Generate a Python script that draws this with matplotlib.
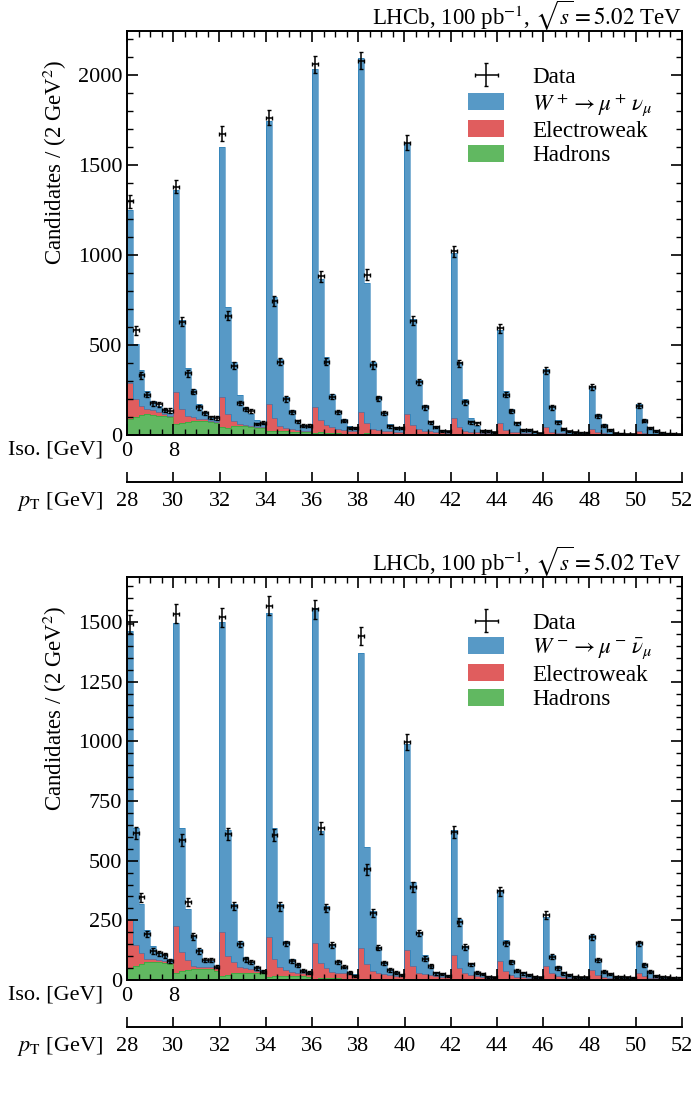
import numpy as np
import matplotlib
matplotlib.use("Agg")
import matplotlib.pyplot as plt
from matplotlib.ticker import MultipleLocator, FuncFormatter
from matplotlib.patches import Patch

plt.rcParams['font.family'] = ['Liberation Serif', 'DejaVu Serif']
plt.rcParams['mathtext.fontset'] = 'stix'
plt.rcParams['font.size'] = 16

# ---------------- data ----------------
pt_ticks = [28, 30, 32, 34, 36, 38, 40, 42, 44, 46, 48, 50, 52]
n_iso = 8  # isolation sub-bins (0-8 GeV) per pT bin

# W+ panel (12 pT bins x 8 isolation bins)
data_wp = [1300, 582, 332, 225, 176, 170, 139, 136,
           1380, 628, 343, 241, 154, 120, 98, 94,
           1675, 663, 385, 178, 144, 135, 61, 67,
           1764, 745, 407, 200, 126, 76, 52, 52,
           2059, 881, 407, 213, 126, 80, 37, 37,
           2081, 890, 389, 204, 122, 48, 37, 37,
           1625, 635, 296, 154, 70, 43, 24, 20,
           1021, 398, 181, 70, 65, 24, 24, 15,
           593, 224, 131, 65, 28, 28, 19, 9,
           357, 154, 70, 33, 20, 15, 11, 11,
           269, 107, 52, 28, 9, 8, 5, 5,
           163, 80, 39, 24, 11, 8, 6, 4]
sig_wp = [964, 306, 199, 101, 50, 30, 27, 14,
          1126, 493, 263, 157, 83, 37, 12, 15,
          1392, 596, 331, 161, 97, 65, 39, 23,
          1573, 672, 370, 174, 106, 53, 33, 28,
          1881, 785, 374, 185, 102, 59, 28, 24,
          1966, 779, 374, 189, 98, 41, 28, 24,
          1508, 587, 273, 145, 60, 36, 14, 10,
          917, 364, 176, 75, 37, 16, 14, 10,
          518, 218, 126, 56, 22, 19, 11, 5,
          321, 144, 71, 30, 15, 10, 7, 6,
          241, 103, 52, 27, 7, 5, 4, 3,
          152, 79, 39, 23, 8, 6, 4, 3]
ew_wp = [199, 98, 50, 28, 28, 23, 14, 10,
         176, 79, 37, 22, 13, 13, 6, 5,
         166, 78, 24, 13, 9, 6, 6, 6,
         152, 70, 32, 19, 15, 14, 10, 10,
         142, 69, 45, 33, 24, 22, 16, 15,
         122, 56, 25, 23, 18, 15, 13, 11,
         112, 52, 28, 20, 16, 13, 11, 9,
         90, 40, 21, 15, 13, 10, 8, 6,
         63, 26, 16, 12, 9, 8, 7, 5,
         44, 18, 11, 8, 6, 5, 4, 3,
         32, 13, 8, 5, 4, 3, 2, 2,
         19, 9, 6, 4, 3, 2, 2, 1]
had_wp = [89, 102, 113, 117, 113, 107, 104, 98,
          61, 65, 70, 76, 76, 76, 74, 65,
          43, 39, 52, 48, 48, 46, 40, 38,
          20, 24, 20, 20, 18, 16, 14, 14,
          12, 14, 12, 10, 9, 8, 8, 7,
          8, 9, 8, 7, 6, 5, 5, 5,
          5, 5, 5, 4, 4, 3, 3, 3,
          3, 3, 3, 3, 2, 2, 2, 2,
          2, 2, 2, 2, 2, 1, 1, 1,
          2, 1, 1, 1, 1, 1, 1, 1,
          1, 1, 1, 1, 1, 1, 1, 1,
          1, 1, 1, 1, 1, 1, 1, 1]

# W- panel
data_wm = [1490, 615, 347, 192, 122, 111, 103, 78,
           1535, 586, 326, 183, 122, 83, 83, 56,
           1519, 612, 310, 150, 86, 76, 51, 35,
           1568, 607, 308, 153, 81, 64, 38, 31,
           1553, 635, 303, 146, 76, 56, 31, 17,
           1441, 463, 281, 136, 72, 42, 31, 21,
           997, 389, 197, 90, 58, 28, 24, 17,
           620, 243, 139, 65, 31, 24, 14, 11,
           372, 153, 76, 38, 28, 21, 14, 11,
           271, 97, 51, 28, 21, 14, 11, 11,
           181, 83, 35, 24, 14, 12, 11, 10,
           153, 63, 35, 17, 14, 11, 10, 8]
sig_wm = [1210, 489, 206, 121, 55, 32, 27, 16,
          1269, 520, 213, 127, 72, 29, 27, 6,
          1300, 528, 244, 112, 46, 31, 16, 5,
          1355, 550, 261, 122, 53, 36, 14, 10,
          1401, 554, 261, 115, 49, 27, 7, 3,
          1234, 491, 248, 108, 49, 24, 14, 7,
          865, 352, 170, 79, 35, 18, 14, 9,
          524, 208, 114, 49, 20, 13, 8, 4,
          296, 130, 62, 28, 19, 13, 7, 4,
          206, 76, 43, 20, 13, 8, 5, 4,
          146, 62, 25, 17, 8, 6, 5, 4,
          129, 50, 29, 13, 8, 6, 5, 3]
ew_wm = [199, 88, 45, 14, 12, 9, 9, 5,
         197, 81, 41, 12, 10, 10, 9, 10,
         184, 79, 48, 22, 18, 13, 8, 7,
         170, 71, 38, 24, 18, 15, 13, 11,
         150, 64, 41, 28, 24, 22, 19, 17,
         132, 62, 34, 27, 21, 18, 15, 12,
         122, 55, 28, 22, 19, 15, 12, 10,
         102, 47, 26, 18, 14, 11, 9, 7,
         78, 36, 20, 13, 10, 8, 7, 5,
         57, 27, 14, 10, 8, 6, 5, 4,
         41, 20, 11, 7, 5, 4, 3, 3,
         30, 16, 9, 6, 4, 3, 2, 2]
had_wm = [51, 58, 69, 76, 76, 74, 72, 67,
          28, 37, 42, 46, 46, 46, 44, 39,
          17, 21, 28, 31, 31, 31, 31, 28,
          11, 15, 18, 18, 17, 16, 15, 14,
          6, 8, 8, 7, 7, 6, 6, 5,
          4, 5, 5, 4, 4, 3, 3, 3,
          3, 3, 3, 3, 2, 2, 2, 2,
          2, 2, 2, 2, 1, 1, 1, 1,
          1, 1, 1, 1, 1, 1, 1, 1,
          1, 1, 1, 1, 1, 1, 1, 1,
          1, 1, 1, 1, 1, 1, 1, 1,
          1, 1, 1, 1, 1, 1, 1, 1]

label_wp = r'$W^+ \rightarrow \mu^+\, \nu_\mu$'
label_wm = r'$W^- \rightarrow \mu^-\, \bar{\nu}_\mu$'
title = r'LHCb, 100 pb$^{-1}$, $\sqrt{s} = 5.02$ TeV'

# ---------------- style ----------------
c_blue = (31/255, 119/255, 180/255, 0.75)
c_red = (214/255, 39/255, 40/255, 0.75)
c_green = (44/255, 160/255, 44/255, 0.75)

W, H = 699, 1099
fig = plt.figure(figsize=(W/100, H/100), dpi=100)

left_px, right_px = 127, 682


def fx(px):
    return px / W


def fy(py):
    return 1 - py / H


def panel(top_px, bot_px, line_px, data, sig, had_, ew_, sig_label,
          ymax, major, minor, leg_y):
    ax = fig.add_axes([fx(left_px), fy(bot_px), fx(right_px - left_px),
                       (bot_px - top_px) / H])
    nb = len(data)
    edges = np.arange(nb + 1)
    had_a = np.array(had_, float)
    ew_a = np.array(ew_, float)
    sig_a = np.array(sig, float)
    dat = np.array(data, float)
    l1 = had_a
    l2 = had_a + ew_a
    l3 = l2 + sig_a
    ax.stairs(l1, edges, baseline=0, fill=True, color=c_green, lw=0)
    ax.stairs(l2, edges, baseline=l1, fill=True, color=c_red, lw=0)
    ax.stairs(l3, edges, baseline=l2, fill=True, color=c_blue, lw=0)
    ax.stairs(l1, edges, baseline=None, color=(44/255, 160/255, 44/255, 0.8), lw=0.5)
    ax.stairs(l2, edges, baseline=None, color=(31/255, 119/255, 180/255, 0.8), lw=0.5)
    ax.stairs(l3, edges, baseline=None, color=(31/255, 119/255, 180/255, 0.8), lw=0.5)
    eb = ax.errorbar(edges[:-1] + 0.5, dat, yerr=np.sqrt(dat), xerr=0.5,
                     fmt='none', ecolor='black', elinewidth=1.1,
                     capsize=1.2, capthick=1.0, zorder=5)

    ax.set_xlim(0, nb)
    ax.set_ylim(0, ymax)
    ax.xaxis.set_major_locator(MultipleLocator(n_iso))
    ax.xaxis.set_minor_locator(MultipleLocator(2))
    ax.xaxis.set_major_formatter(FuncFormatter(
        lambda v, p: {0: '0', 8: '8'}.get(int(round(v)), '')))
    ax.yaxis.set_major_locator(MultipleLocator(major))
    ax.yaxis.set_minor_locator(MultipleLocator(minor))
    ax.yaxis.set_major_formatter(FuncFormatter(lambda v, p: '%d' % v))
    ax.tick_params(which='both', direction='in', top=True, right=True)
    ax.tick_params(which='major', length=8, width=1.2, labelsize=16)
    ax.tick_params(axis='x', which='major', pad=5)
    ax.tick_params(which='minor', length=4, width=1.0)
    for s in ax.spines.values():
        s.set_linewidth(1.4)

    ax.set_ylabel('Candidates / (2 GeV$^2$)', fontsize=16.5)
    ax.yaxis.set_label_coords(-0.104, 0.928)
    ax.yaxis.label.set_horizontalalignment('right')

    ax.annotate(title, xy=(1.0, 1.0), xycoords='axes fraction',
                xytext=(0, 4.5), textcoords='offset points',
                ha='right', va='baseline', fontsize=16.5)
    ax.annotate('Iso. [GeV]', xy=(-0.043, 0), xycoords='axes fraction',
                xytext=(0, -11), textcoords='offset points',
                ha='right', va='center', fontsize=16)

    handles = [eb, Patch(facecolor=c_blue), Patch(facecolor=c_red),
               Patch(facecolor=c_green)]
    labels = ['Data', sig_label, 'Electroweak', 'Hadrons']
    ax.legend(handles, labels, loc='upper left', bbox_to_anchor=(0.615, leg_y),
              frameon=False, borderpad=0, borderaxespad=0, handlelength=1.55,
              handleheight=0.75, handletextpad=1.2, labelspacing=0.12,
              fontsize=16.7)

    # pT axis below
    ax2 = fig.add_axes([fx(left_px), fy(line_px), fx(right_px - left_px), 0.0001])
    ax2.set_xlim(pt_ticks[0], pt_ticks[-1])
    ax2.set_ylim(0, 1)
    for k in ['top', 'left', 'right']:
        ax2.spines[k].set_visible(False)
    ax2.spines['bottom'].set_linewidth(1.4)
    ax2.set_yticks([])
    ax2.set_xticks(pt_ticks)
    ax2.set_xticklabels([str(v) for v in pt_ticks])
    ax2.tick_params(axis='x', direction='in', length=7.5, width=1.2, pad=7,
                    labelsize=16)
    ax2.patch.set_visible(False)
    ax2.annotate(r'$p_\mathrm{T}$ [GeV]', xy=(-0.043, 0), xycoords='axes fraction',
                 xytext=(0, -14), textcoords='offset points',
                 ha='right', va='center', fontsize=16)
    return ax


panel(31, 435, 482, data_wp, sig_wp, had_wp, ew_wp, label_wp,
      2245, 500, 100, 0.912)
panel(577, 980, 1027, data_wm, sig_wm, had_wm, ew_wm, label_wm,
      1688, 250, 50, 0.912)

fig.savefig('out.png', dpi=100)
